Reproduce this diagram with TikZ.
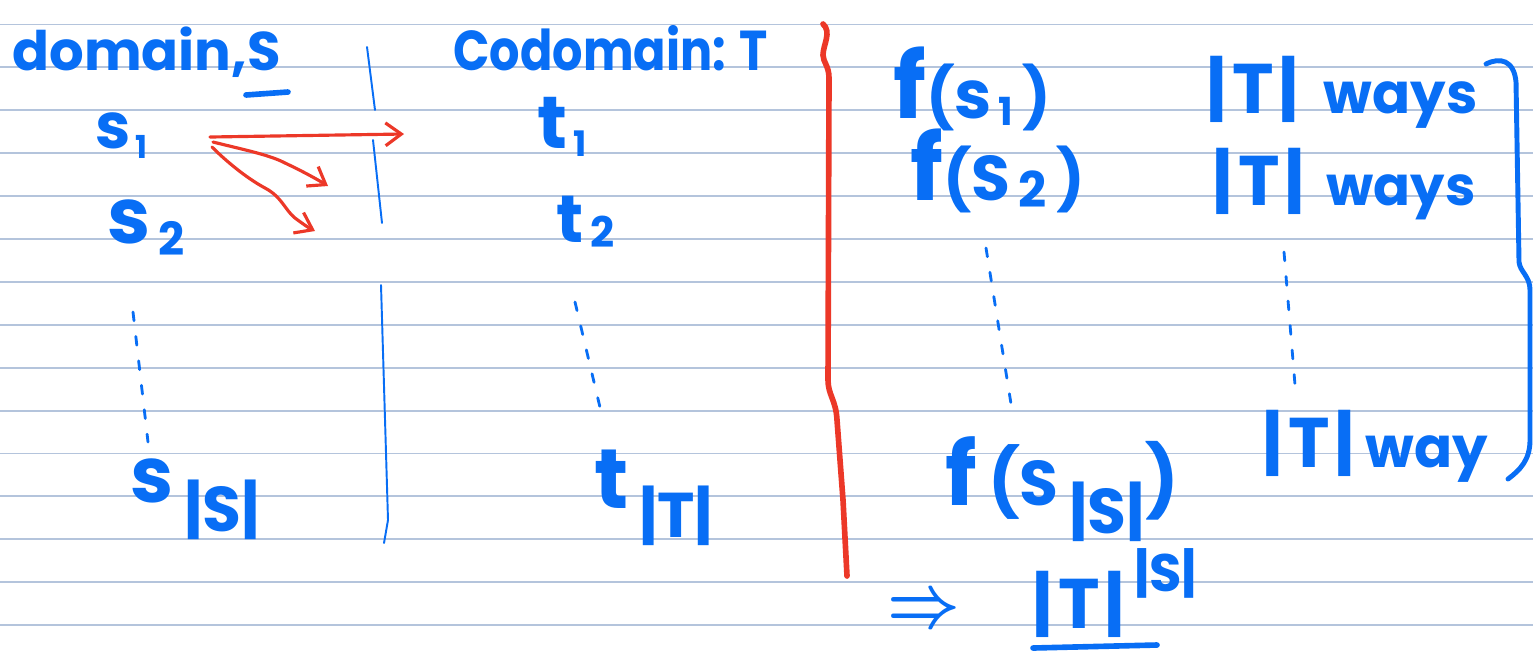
\documentclass[tikz,border=0pt]{standalone}
\usepackage{fontspec}
\setmainfont{Poppins}
\usetikzlibrary{arrows.meta}
\definecolor{inkblue}{RGB}{8,110,245}
\definecolor{inkred}{RGB}{236,56,40}
\definecolor{ruleblue}{RGB}{180,196,220}
% handwriting pieces: size, and lowered by an amount
\newcommand{\hw}[2]{{\fontsize{#1}{#1}\selectfont #2}}
\newcommand{\lowsub}[3]{\raisebox{-#1}{\fontsize{#2}{#2}\selectfont #3}}

\begin{document}
\begin{tikzpicture}[x=0.02cm, y=-0.02cm,
  rule/.style={ruleblue, line width=1.1pt},
  ink/.style={inkblue, font=\fontsize{32}{36}\selectfont\bfseries, inner sep=0pt, anchor=base west},
  pen/.style={inkblue, line width=1.1pt, line cap=round},
  thickpen/.style={inkblue, line width=3.2pt, line cap=round},
  dotpen/.style={inkblue, line width=1.6pt, line cap=round, dash pattern=on 5pt off 9pt},
  redpen/.style={inkred, line width=1.8pt, line cap=round, line join=round, -{Straight Barb[length=9pt, width=13pt]}}
]
\useasboundingbox (0,0) rectangle (1533,654);
\fill[white] (0,0) rectangle (1533,654);
% ruled paper
\foreach \k in {0,...,14}
  \draw[rule] (0,{24.5+42.9*\k}) -- (1533,{24.5+42.9*\k});

% left column: domain
\node[ink] (dom) at (12,70) {\hw{31}{domain,S}};
\draw[thickpen] (246,95) -- (288,92);
\node[ink] (s1) at (95,148) {\hw{36}{s}\lowsub{6pt}{18}{\,1}};
\node[ink] (s2) at (107,243) {\hw{44}{s}\lowsub{7pt}{26}{\,2}};
\node[ink] (sS) at (130,502) {\hw{44}{s}\lowsub{17pt}{36}{\,|S|}};
\draw[dotpen] (133,312) -- (148,442);

% thin separator
\draw[pen] (367,47) -- (375,110);
\draw[pen] (373,140) -- (382,223);
\draw[pen] (381,285) -- (388,520) -- (384,543);

% middle column: codomain
\node[ink] (cod) at (453,70) {\scalebox{0.85}[1]{\hw{32}{Codomain: T}}};
\node[ink] (t1) at (537,148) {\hw{42}{t}\lowsub{5pt}{20}{\,1}};
\node[ink] (t2) at (556,242) {\hw{38}{t}\lowsub{3pt}{24}{\,2}};
\node[ink] (tT) at (594,508) {\hw{48}{t}\lowsub{17pt}{36}{\,|T|}};
\draw[dotpen] (575,302) -- (603,420);

% maps from s1
\coordinate (fromA) at (210,137);
\coordinate (fromB) at (213,142);
\coordinate (fromC) at (212,147);
\coordinate (toA) at (404,134);
\coordinate (toB) at (328,186);
\coordinate (toC) at (315,231);
\draw[redpen] (fromA) -- (toA);
\draw[redpen] (fromB) .. controls (245,150) and (270,155) .. (285,163) .. controls (300,170) and (315,178) .. (toB);
\draw[redpen] (fromC) .. controls (230,165) and (250,180) .. (265,188) .. controls (282,197) and (285,210) .. (295,218) .. controls (303,224) and (309,228) .. (toC);

% red divider
\draw[inkred, line width=3.2pt, line cap=round]
  (823,24) .. controls (832,32) and (823,45) .. (823,55)
  .. controls (823,62) and (829,66) .. (829,78)
  -- (828,380) .. controls (828,395) and (836,400) .. (837,420)
  -- (843,500) -- (847,576);

% right column: counting
\node[ink] (fs1) at (893,118) {\hw{52}{f}\hw{34}{(}\hw{38}{s}\lowsub{4pt}{22}{\,1}\hw{34}{\,)}};
\node[ink] (w1) at (1206,113) {\hw{40}{|\hspace{3pt}T\hspace{3pt}|}\hspace{14pt}\hw{32}{ways}};
\node[ink] (fs2) at (910,200) {\hw{52}{f}\hw{34}{(}\hw{36}{S}\lowsub{4pt}{28}{\,2}\hw{34}{\,)}};
\node[ink] (w2) at (1212,205) {\hw{40}{|\hspace{3pt}T\hspace{3pt}|}\hspace{12pt}\hw{31}{ways}};
\draw[dotpen] (986,248) -- (1012,410);
\draw[dotpen] (1284,252) -- (1295,385);
\node[ink] (fsS) at (945,505) {\hw{50}{f}\hw{38}{\,(}\hw{36}{S}\lowsub{16pt}{36}{\,|S|}\hw{40}{)}};
\node[ink] (wS) at (1262,467) {\hw{40}{|\hspace{3pt}T\hspace{3pt}|}\hspace{6pt}\hw{32}{way}};

% bracket over the ways
\draw[thickpen, line width=2.8pt]
  (1486,64) .. controls (1500,57) and (1514,60) .. (1516,82)
  -- (1519,262) .. controls (1520,272) and (1530,276) .. (1530,290)
  -- (1530,440) .. controls (1530,460) and (1520,470) .. (1508,479);

% result
\node[ink, anchor=center] (impl) at (924,612) {\scalebox{3.6}[4.2]{\normalsize\boldmath$\Rightarrow$}};
\node[ink] (res) at (1032,628) {\hw{40}{|\hspace{3pt}T\hspace{3pt}|}\raisebox{21pt}{\hw{30}{\,|S|}}};
\draw[thickpen] (1033,648) -- (1157,645);
\end{tikzpicture}
\end{document}
